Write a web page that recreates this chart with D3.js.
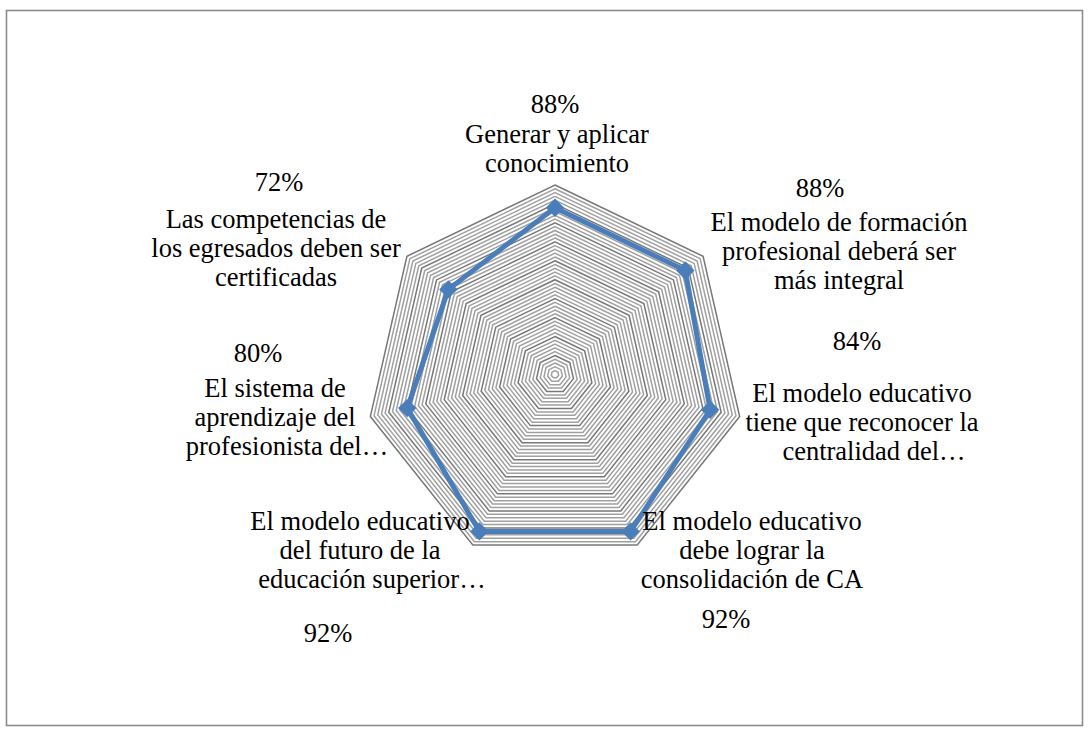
<!DOCTYPE html>
<html>
<head>
<meta charset="utf-8">
<script src="https://cdn.jsdelivr.net/npm/d3@7"></script>
<style>
  html, body { margin: 0; padding: 0; background: #fff; }
  svg { display: block; }
  text { font-family: "Liberation Serif", "Times New Roman", serif; font-size: 26.5px; fill: #000; }
</style>
</head>
<body>
<svg id="chart" width="1092" height="734"></svg>
<script>
// data
const categories = [
  ['Generar y aplicar', 'conocimiento'],
  ['El modelo de formación', 'profesional deberá ser', 'más integral'],
  ['El modelo educativo', 'tiene que reconocer la', 'centralidad del…'],
  ['El modelo educativo', 'debe lograr la', 'consolidación de CA'],
  ['El modelo educativo', 'del futuro de la', 'educación superior…'],
  ['El sistema de', 'aprendizaje del', 'profesionista del…'],
  ['Las competencias de', 'los egresados deben ser', 'certificadas']
];
const values = [0.88, 0.88, 0.84, 0.92, 0.92, 0.80, 0.72];
const gridSteps = d3.range(1, 51).map(i => i / 50);

// label placement (hand-placed in the original)
const catPos = [
  [557, 143], [839, 231], [862, 402], [752, 530], [360, 530], [275, 397], [276, 228]
];
const pctPos = [
  [555, 113], [820, 197], [857, 350], [726, 628], [328, 642], [258, 362], [279, 191]
];

const svg = d3.select('#chart');
const cx = 555, cy = 374.4, R = 189.4;
const lineH = 29;

svg.append('rect')
  .attr('x', 6.5).attr('y', 10.5)
  .attr('width', 1076).attr('height', 715)
  .attr('fill', '#fff')
  .attr('stroke', '#8c8c8c')
  .attr('stroke-width', 1.6);

const r = d3.scaleLinear().domain([0, 1]).range([0, R]);
const angle = d3.scaleLinear().domain([0, categories.length]).range([0, 2 * Math.PI]);

const pt = (i, v) => [cx + r(v) * Math.sin(angle(i)), cy - r(v) * Math.cos(angle(i))];

// concentric grid
const g = svg.append('g');
g.selectAll('polygon.grid')
  .data(gridSteps)
  .join('polygon')
  .attr('class', 'grid')
  .attr('points', v => categories.map((_, i) => pt(i, v).join(',')).join(' '))
  .attr('fill', 'none')
  .attr('stroke', (v, i) => (i + 1) % 5 === 0 ? '#787878' : '#a0a0a0')
  .attr('stroke-width', 1.5);

// series
const line = d3.line().curve(d3.curveLinearClosed);
g.append('path')
  .datum(values.map((v, i) => pt(i, v)))
  .attr('d', line)
  .attr('fill', 'none')
  .attr('stroke', '#4a7ebb')
  .attr('stroke-width', 5)
  .attr('stroke-linejoin', 'round');

g.selectAll('path.marker')
  .data(values)
  .join('path')
  .attr('class', 'marker')
  .attr('d', d3.symbol(d3.symbolSquare, 170))
  .attr('transform', (v, i) => `translate(${pt(i, v)}) rotate(45)`)
  .attr('fill', '#4a7ebb');

// category labels
categories.forEach((lines, i) => {
  const t = svg.append('text').attr('text-anchor', 'middle');
  lines.forEach((s, j) => {
    t.append('tspan')
      .attr('x', catPos[i][0] + (s.endsWith('…') ? 12 : 0))
      .attr('y', catPos[i][1] + j * lineH)
      .text(s);
  });
});

// value labels
svg.selectAll('text.pct')
  .data(values)
  .join('text')
  .attr('class', 'pct')
  .attr('text-anchor', 'middle')
  .attr('x', (v, i) => pctPos[i][0])
  .attr('y', (v, i) => pctPos[i][1])
  .text(v => d3.format('.0%')(v));
</script>
</body>
</html>
